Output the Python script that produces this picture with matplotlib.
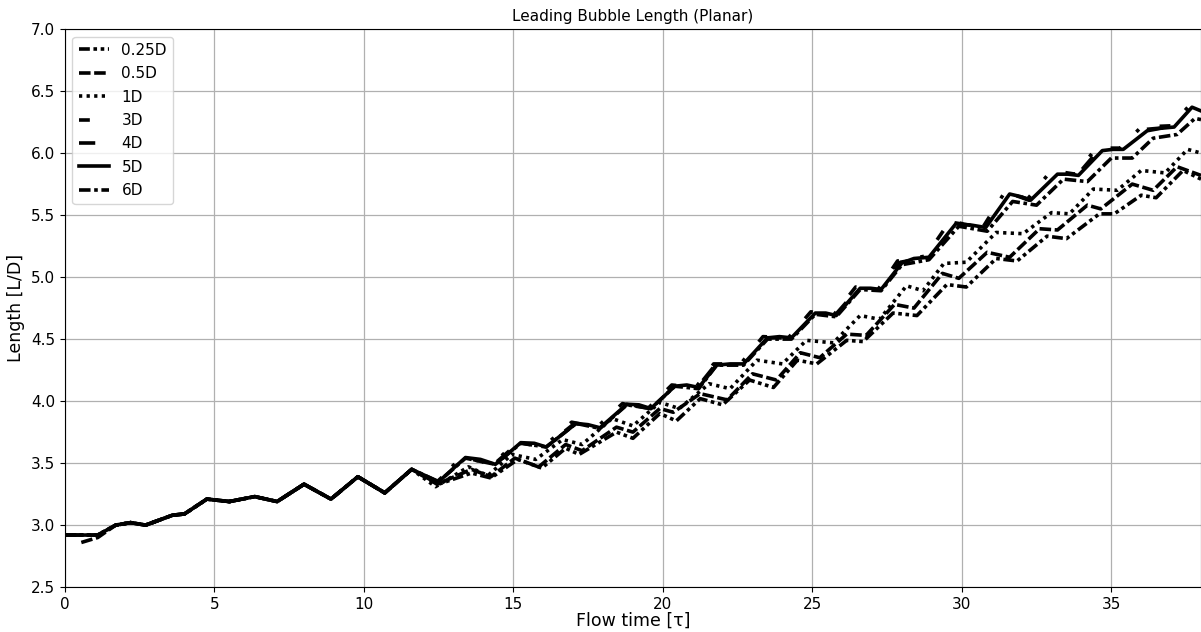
import numpy as np
import matplotlib
matplotlib.use('Agg')
import matplotlib.pyplot as plt

# ---- data ----
# shared early part of every curve (they all overlap up to ~11.6 tau)
t_early = [0, 1.1, 1.7, 2.2, 2.7, 3.6, 4.0, 4.75, 5.5, 6.35, 7.1, 8.0, 8.9, 9.8, 10.7, 11.6]
v_early = [2.92, 2.92, 3.00, 3.02, 3.00, 3.08, 3.09, 3.21, 3.19, 3.23, 3.19, 3.33, 3.21, 3.39, 3.26, 3.45]

# 5D (solid) after 11.6
t_5d = [12.5, 13.4, 13.9, 14.4, 15.25, 15.7, 16.1, 17.1, 17.5, 17.9, 18.8, 19.2, 19.6, 20.4, 20.8, 21.2,
        21.8, 22.25, 22.7, 23.5, 23.9, 24.3, 25.1, 25.45, 25.8, 26.6, 26.95, 27.3, 28.0, 28.4, 28.9,
        29.8, 30.3, 30.8, 31.6, 31.95, 32.3, 33.2, 33.55, 33.9, 34.7, 35.05, 35.4, 36.2, 36.65, 37.1, 37.7, 38.0]
v_5d = [3.35, 3.545, 3.53, 3.49, 3.665, 3.66, 3.63, 3.82, 3.81, 3.785, 3.975, 3.97, 3.94, 4.12, 4.13, 4.11,
        4.29, 4.30, 4.30, 4.51, 4.52, 4.51, 4.71, 4.71, 4.69, 4.91, 4.91, 4.90, 5.115, 5.15, 5.16,
        5.43, 5.42, 5.40, 5.67, 5.65, 5.62, 5.83, 5.83, 5.82, 6.02, 6.03, 6.03, 6.18, 6.20, 6.21, 6.37, 6.34]

# 3D and 4D run on top of 5D, a touch ahead
t_3d = [12.4, 13.3, 14.3, 15.1, 16.0, 16.95, 17.8, 18.65, 19.5, 20.3, 21.1, 21.7, 22.6, 23.35, 24.2, 24.95,
        25.7, 26.45, 27.2, 27.85, 28.8, 29.6, 30.7, 31.45, 32.2, 33.0, 33.8, 34.5, 35.3, 36.0, 37.0, 37.6, 38.0]
v_3d = [3.35, 3.55, 3.49, 3.67, 3.63, 3.83, 3.79, 3.98, 3.94, 4.13, 4.11, 4.30, 4.30, 4.52, 4.51, 4.72,
        4.69, 4.92, 4.90, 5.13, 5.17, 5.45, 5.40, 5.69, 5.63, 5.86, 5.83, 6.04, 6.04, 6.21, 6.22, 6.38, 6.35]
t_4d = [12.45, 13.35, 14.35, 15.2, 16.05, 17.05, 17.85, 18.75, 19.55, 20.35, 21.15, 21.75, 22.65, 23.45,
        24.25, 25.05, 25.75, 26.55, 27.25, 27.95, 28.85, 29.7, 30.75, 31.55, 32.25, 33.1, 33.85, 34.6, 35.35,
        36.1, 37.05, 37.65, 38.0]
v_4d = [3.35, 3.55, 3.49, 3.67, 3.63, 3.82, 3.79, 3.98, 3.94, 4.12, 4.11, 4.29, 4.30, 4.51, 4.51, 4.71,
        4.69, 4.91, 4.90, 5.12, 5.16, 5.44, 5.40, 5.68, 5.62, 5.84, 5.82, 6.03, 6.03, 6.19, 6.21, 6.37, 6.34]

# 6D (dash-dot) drops a little below the solid after ~30
t_6d = [12.5, 13.4, 14.4, 15.25, 16.1, 17.1, 17.9, 18.8, 19.6, 20.4, 21.2, 21.8, 22.7, 23.5, 24.3, 25.1,
        25.8, 26.6, 27.3, 28.0, 28.9, 29.9, 30.85, 31.7, 32.5, 33.4, 34.2, 35.0, 35.7, 36.4, 37.2, 37.8, 38.0]
v_6d = [3.35, 3.54, 3.49, 3.66, 3.63, 3.82, 3.78, 3.97, 3.94, 4.12, 4.10, 4.29, 4.29, 4.50, 4.50, 4.70,
        4.68, 4.90, 4.89, 5.10, 5.14, 5.41, 5.37, 5.61, 5.58, 5.79, 5.77, 5.96, 5.96, 6.12, 6.15, 6.28, 6.27]

# 1D (dotted)
t_1d = [12.4, 13.5, 14.15, 14.95, 15.75, 16.65, 17.3, 18.3, 19.0, 19.9, 20.55, 21.55, 22.25, 23.15, 24.0,
        24.8, 25.7, 26.6, 27.25, 28.15, 28.7, 29.4, 30.15, 31.15, 32.05, 33.0, 33.6, 34.4, 35.2, 36.0, 36.8,
        37.55, 38.0]
v_1d = [3.31, 3.47, 3.40, 3.57, 3.53, 3.69, 3.65, 3.86, 3.80, 3.99, 3.94, 4.14, 4.10, 4.33, 4.30,
        4.49, 4.47, 4.69, 4.66, 4.93, 4.89, 5.11, 5.12, 5.36, 5.35, 5.52, 5.51, 5.71, 5.70, 5.86, 5.84,
        6.03, 6.00]

# 0.5D (dashed) starts a bit late and low
t_05d_start = [0.55, 1.1]
v_05d_start = [2.86, 2.90]
t_05d = [12.45, 13.6, 14.25, 15.05, 15.85, 16.75, 17.3, 18.45, 19.0, 19.9, 20.35, 21.25, 22.15, 23.0, 23.8,
         24.6, 25.25, 26.15, 26.8, 27.75, 28.4, 29.35, 29.9, 30.85, 31.6, 32.6, 33.2, 34.2, 34.65, 35.7, 36.4,
         37.2, 38.0]
v_05d = [3.33, 3.45, 3.39, 3.54, 3.47, 3.65, 3.60, 3.79, 3.75, 3.94, 3.91, 4.06, 4.01, 4.22, 4.17,
         4.39, 4.35, 4.54, 4.53, 4.78, 4.75, 5.03, 4.99, 5.20, 5.16, 5.39, 5.38, 5.58, 5.55, 5.75, 5.70,
         5.89, 5.82]

# 0.25D (dash-dot-dot) lowest
t_025d = [12.5, 13.6, 14.25, 15.15, 15.95, 16.75, 17.2, 18.45, 19.0, 19.9, 20.45, 21.25, 22.0, 22.9, 23.7,
          24.5, 25.15, 26.15, 26.7, 27.7, 28.5, 29.5, 30.15, 31.15, 31.85, 32.85, 33.5, 34.6, 35.1, 36.0, 36.5,
          37.4, 38.0]
v_025d = [3.33, 3.42, 3.38, 3.53, 3.46, 3.62, 3.57, 3.75, 3.70, 3.90, 3.84, 4.02, 3.97, 4.17, 4.11,
          4.33, 4.30, 4.49, 4.48, 4.71, 4.69, 4.94, 4.92, 5.15, 5.13, 5.33, 5.31, 5.51, 5.51, 5.66, 5.64,
          5.86, 5.79]

labels = ['0.25D', '0.5D', '1D', '3D', '4D', '5D', '6D']

# ---- plot ----
lw = 2.6
fig = plt.figure(figsize=(12.01, 6.32), dpi=100)
ax = fig.add_axes([0.054, 0.071, 0.946, 0.883])

ax.plot(t_early + t_025d, v_early + v_025d, 'k', lw=lw, dashes=(3, 1, 1, 1, 1, 1), label=labels[0])
ax.plot(t_05d_start + t_early[2:] + t_05d, v_05d_start + v_early[2:] + v_05d, 'k', lw=lw,
        dashes=(3.2, 1), label=labels[1])
ax.plot(t_early + t_1d, v_early + v_1d, 'k', lw=lw, dashes=(0.9, 1.2), label=labels[2])
ax.plot(t_early + t_3d, v_early + v_3d, 'k', lw=lw, dashes=(3, 6, 1, 6), label=labels[3])
ax.plot(t_early + t_4d, v_early + v_4d, 'k', lw=lw, dashes=(4.5, 18), label=labels[4])
ax.plot(t_early + t_5d, v_early + v_5d, 'k', lw=lw, label=labels[5])
ax.plot(t_early + t_6d, v_early + v_6d, 'k', lw=lw, dashes=(3.2, 1, 1, 1), label=labels[6])

ax.set_xlim(0, 38)
ax.set_ylim(2.5, 7.0)
ax.set_xticks([0, 5, 10, 15, 20, 25, 30, 35])
ax.set_yticks(np.arange(2.5, 7.01, 0.5))
ax.yaxis.set_major_formatter(matplotlib.ticker.FormatStrFormatter('%.1f'))
ax.tick_params(labelsize=11)
ax.grid(True, color='#b0b0b0', lw=0.9)
ax.set_axisbelow(True)

ax.set_title('Leading Bubble Length (Planar)', fontsize=11)
ax.set_xlabel('Flow time [τ]', fontsize=12.5, labelpad=0)
ax.set_ylabel('Length [L/D]', fontsize=12.5)

ax.legend(loc='upper left', fontsize=11, handlelength=2.0, labelspacing=0.55)

fig.savefig('out.png', dpi=100)
